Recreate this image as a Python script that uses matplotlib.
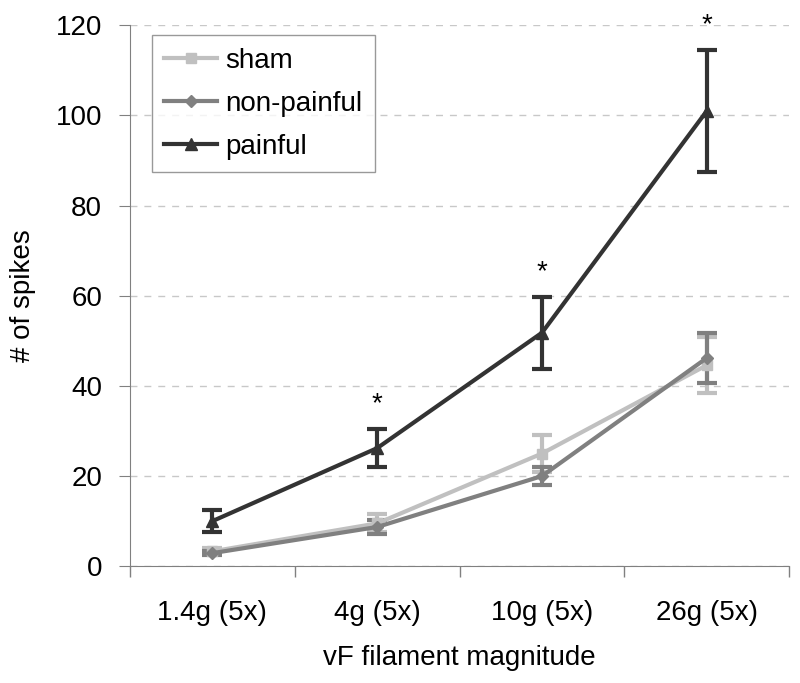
import matplotlib.pyplot as plt
from matplotlib.lines import Line2D
import numpy as np

plt.rcParams['font.family'] = ['Liberation Sans', 'DejaVu Sans']

# Podatki
kategorije = ["1.4g (5x)", "4g (5x)", "10g (5x)", "26g (5x)"]
sham = [3.3, 9.5, 25.0, 44.6]
sham_err = [0.7, 2.0, 4.2, 6.2]
nonpainful = [2.9, 8.7, 20.0, 46.2]
nonpainful_err = [0.5, 1.5, 2.0, 5.5]
painful = [10.0, 26.2, 51.8, 101.0]
painful_err = [2.4, 4.3, 8.0, 13.6]
zvezdice = [1, 2, 3]  # indeksi z oznako *

x = np.arange(len(kategorije))

fig = plt.figure(figsize=(8, 6.83), dpi=100)
ax = fig.add_axes([0.1625, 0.171, 0.824, 0.792])

serije = [
    (sham, sham_err, "sham", "#c0c0c0", "s", 7),
    (nonpainful, nonpainful_err, "non-painful", "#808080", "D", 6),
    (painful, painful_err, "painful", "#333333", "^", 8),
]
roke = []
for vals, err, lab, col, mk, ms in serije:
    ax.errorbar(x, vals, yerr=err, color=col, marker=mk, markersize=ms,
                linewidth=3, elinewidth=3, capsize=7, capthick=3)
    roke.append(Line2D([], [], color=col, marker=mk, markersize=ms,
                       linewidth=3, label=lab))

for i in zvezdice:
    ax.text(x[i], painful[i] + painful_err[i] + 2.5, "*", ha="center", va="bottom",
            fontsize=20)

ax.set_xlim(-0.5, 3.5)
ax.set_ylim(0, 120)
ax.set_yticks(range(0, 121, 20))
ax.yaxis.grid(True, linestyle=(0, (5, 5)), color="#c8c8c8", linewidth=1)
ax.set_axisbelow(True)

ax.set_xticks(x)
ax.set_xticklabels(kategorije)
ax.set_xticks(np.arange(-0.5, 3.6, 1), minor=True)
ax.tick_params(axis="x", which="major", length=0, pad=24, labelsize=20)
ax.tick_params(axis="x", which="minor", length=8, color="#808080", width=1)
ax.tick_params(axis="y", length=8, color="#808080", labelsize=20, pad=12)

for s in ["top", "right"]:
    ax.spines[s].set_visible(False)
for s in ["left", "bottom"]:
    ax.spines[s].set_color("#808080")

ax.set_xlabel("vF filament magnitude", fontsize=20, labelpad=14)
ax.set_ylabel("# of spikes", fontsize=20, labelpad=14)

leg = ax.legend(handles=roke, loc="upper left", bbox_to_anchor=(0.033, 0.982),
                fontsize=20, fancybox=False, edgecolor="#808080",
                handlelength=1.9, borderpad=0.45, labelspacing=0.62,
                handletextpad=0.3, borderaxespad=0)
leg.get_frame().set_linewidth(1)

plt.savefig("out.png", dpi=100)
